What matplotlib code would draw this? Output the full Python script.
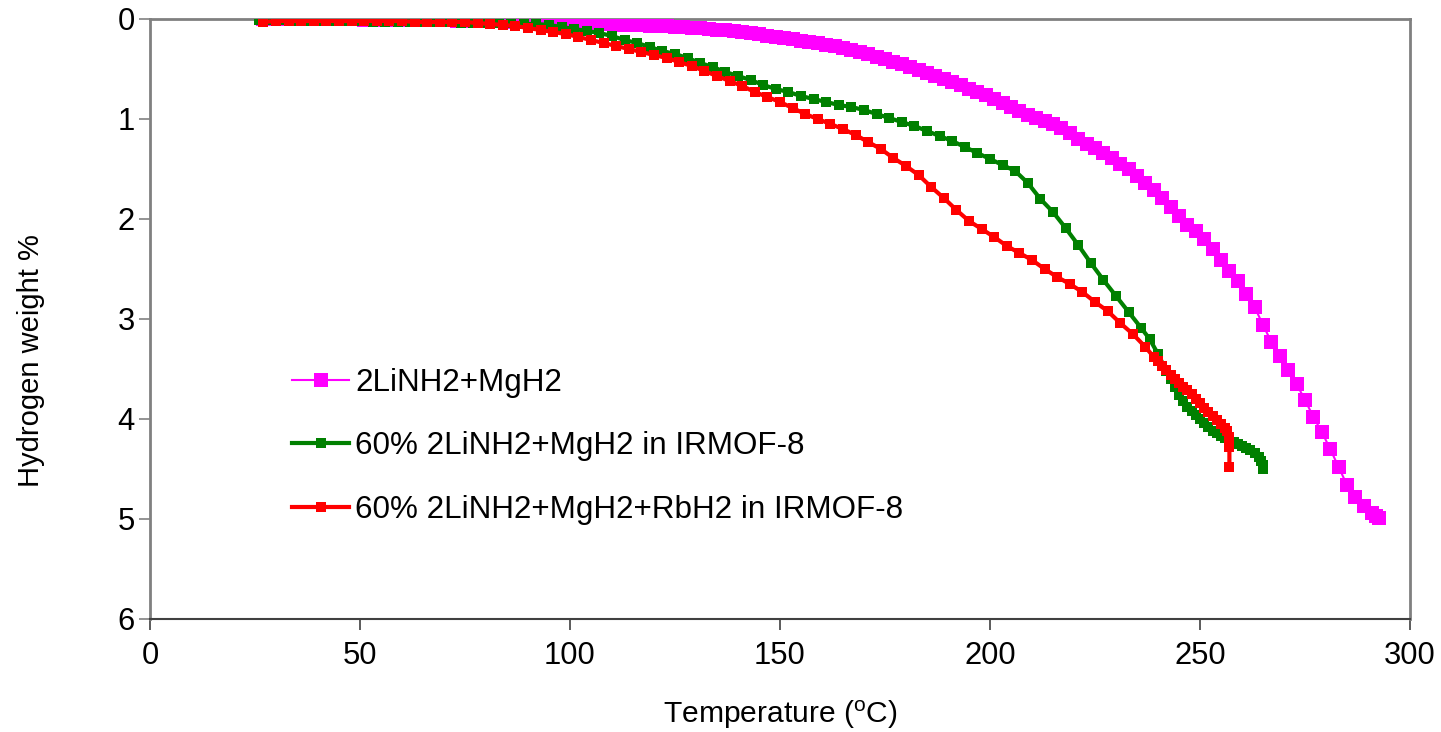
import matplotlib
matplotlib.use("Agg")
import matplotlib.pyplot as plt

plt.rcParams['font.family'] = ['Liberation Sans', 'DejaVu Sans']
plt.rcParams['mathtext.fontset'] = 'custom'
plt.rcParams['mathtext.rm'] = 'Liberation Sans'
plt.rcParams['mathtext.it'] = 'Liberation Sans'

# ---- data ----
t_pure = [27, 29, 31, 33, 35, 37, 39, 41, 43, 45, 47, 49, 51, 53, 55, 57, 59, 61, 63, 65,
          67, 69, 71, 73, 75, 77, 79, 81, 83, 85, 87, 89, 91, 93, 95, 97, 99, 101, 103, 105,
          107, 109, 111, 113, 115, 117, 119, 121, 123, 125, 127, 129, 131, 133, 135, 137, 139,
          141, 143, 145, 147, 149, 151, 153, 155, 157, 159, 161, 163, 165, 167, 169, 171, 173,
          175, 177, 179, 181, 183, 185, 187, 189, 191, 193, 195, 197, 199, 201, 203, 205, 207,
          209, 211, 213, 215, 217, 219, 221, 223, 225, 227, 229, 231, 233, 235, 237, 239, 241,
          243, 245, 247, 249, 251, 253, 255, 257, 259, 261, 263, 265, 267, 269, 271, 273, 275,
          277, 279, 281, 283, 285, 287, 289, 291, 292, 292.5]
w_pure = [0.00, 0.00, 0.00, 0.00, 0.00, 0.00, 0.00, 0.00, 0.00, 0.00, 0.00, 0.00, 0.01, 0.01,
          0.01, 0.01, 0.01, 0.01, 0.01, 0.01, 0.01, 0.01, 0.01, 0.02, 0.02, 0.02, 0.02, 0.02,
          0.02, 0.03, 0.03, 0.03, 0.03, 0.04, 0.04, 0.04, 0.04, 0.05, 0.05, 0.05, 0.05, 0.05,
          0.06, 0.06, 0.06, 0.06, 0.07, 0.07, 0.07, 0.08, 0.08, 0.09, 0.09, 0.10, 0.11, 0.11,
          0.12, 0.13, 0.14, 0.15, 0.17, 0.18, 0.19, 0.20, 0.22, 0.23, 0.24, 0.26, 0.27, 0.29,
          0.31, 0.33, 0.35, 0.38, 0.40, 0.43, 0.45, 0.48, 0.51, 0.54, 0.57, 0.60, 0.63, 0.66,
          0.70, 0.73, 0.76, 0.80, 0.84, 0.88, 0.92, 0.96, 0.99, 1.02, 1.05, 1.09, 1.14, 1.20,
          1.25, 1.29, 1.34, 1.39, 1.45, 1.50, 1.57, 1.64, 1.71, 1.79, 1.88, 1.97, 2.06, 2.12,
          2.20, 2.30, 2.41, 2.52, 2.62, 2.75, 2.88, 3.06, 3.23, 3.37, 3.51, 3.65, 3.81, 3.98,
          4.13, 4.30, 4.48, 4.66, 4.78, 4.87, 4.94, 4.97, 4.99]

t_mof = [26, 29, 32, 35, 38, 41, 44, 47, 50, 53, 56, 59, 62, 65, 68, 71, 74, 77, 80, 83, 86,
         89, 92, 95, 98, 101, 104, 107, 110, 113, 116, 119, 122, 125, 128, 131, 134, 137, 140,
         143, 146, 149, 152, 155, 158, 161, 164, 167, 170, 173, 176, 179, 182, 185, 188, 191,
         194, 197, 200, 203, 206, 209, 212, 215, 218, 221, 224, 227, 230, 233, 236, 238, 240,
         242, 243, 244, 245, 246, 247, 248, 249, 250, 251, 252, 253, 254, 255, 256, 257, 258,
         259, 260, 261, 262, 263, 264, 264.5, 265, 265]
w_mof = [0.01, 0.01, 0.01, 0.02, 0.02, 0.02, 0.02, 0.02, 0.02, 0.03, 0.03, 0.03, 0.03, 0.03,
         0.03, 0.03, 0.04, 0.04, 0.04, 0.04, 0.04, 0.05, 0.05, 0.06, 0.08, 0.10, 0.12, 0.14,
         0.17, 0.21, 0.24, 0.28, 0.32, 0.35, 0.39, 0.44, 0.48, 0.53, 0.57, 0.61, 0.66, 0.70,
         0.73, 0.77, 0.80, 0.83, 0.86, 0.88, 0.91, 0.95, 0.99, 1.03, 1.07, 1.12, 1.17, 1.22,
         1.28, 1.34, 1.40, 1.46, 1.52, 1.64, 1.80, 1.93, 2.09, 2.26, 2.44, 2.61, 2.77, 2.93,
         3.09, 3.20, 3.35, 3.52, 3.60, 3.68, 3.76, 3.82, 3.88, 3.92, 3.96, 4.00, 4.04, 4.08,
         4.12, 4.14, 4.17, 4.19, 4.21, 4.23, 4.25, 4.27, 4.29, 4.31, 4.34, 4.38, 4.42, 4.46,
         4.50]

t_rb = [27, 30, 33, 36, 39, 42, 45, 48, 51, 54, 57, 60, 63, 66, 69, 72, 75, 78, 81, 84, 87,
        90, 93, 96, 99, 102, 105, 108, 111, 114, 117, 120, 123, 126, 129, 132, 135, 138, 141,
        144, 147, 150, 153, 156, 159, 162, 165, 168, 171, 174, 177, 180, 183, 186, 189, 192,
        195, 198, 201, 204, 207, 210, 213, 216, 219, 222, 225, 228, 231, 234, 237, 239, 240,
        241, 242, 243, 244, 245, 246, 247, 248, 249, 250, 251, 252, 253, 254, 255, 256, 256.5,
        257, 257, 257]
w_rb = [0.03, 0.02, 0.02, 0.02, 0.02, 0.02, 0.02, 0.02, 0.02, 0.02, 0.02, 0.02, 0.03, 0.03,
        0.03, 0.03, 0.03, 0.04, 0.05, 0.06, 0.07, 0.09, 0.11, 0.13, 0.15, 0.18, 0.21, 0.24,
        0.27, 0.30, 0.33, 0.36, 0.39, 0.43, 0.47, 0.52, 0.57, 0.62, 0.67, 0.73, 0.78, 0.83,
        0.89, 0.95, 1.00, 1.05, 1.10, 1.16, 1.23, 1.30, 1.39, 1.47, 1.56, 1.68, 1.79, 1.91,
        2.02, 2.10, 2.18, 2.27, 2.34, 2.41, 2.50, 2.58, 2.65, 2.73, 2.83, 2.92, 3.04, 3.15,
        3.28, 3.38, 3.42, 3.47, 3.51, 3.56, 3.60, 3.64, 3.68, 3.71, 3.75, 3.80, 3.84, 3.89,
        3.93, 3.97, 4.01, 4.05, 4.09, 4.12, 4.18, 4.28, 4.48]

labels = ['2LiNH2+MgH2', '60% 2LiNH2+MgH2 in IRMOF-8', '60% 2LiNH2+MgH2+RbH2 in IRMOF-8']
x_ticks = [0, 50, 100, 150, 200, 250, 300]
y_ticks = [0, 1, 2, 3, 4, 5, 6]

# ---- figure ----
fig = plt.figure(figsize=(14.41, 7.32), dpi=100)
ax = fig.add_axes([150 / 1441, 1 - 619 / 732, 1260 / 1441, 600 / 732])

ax.plot(t_pure, w_pure, color='#FF00FF', lw=1.5, marker='s', ms=9.5,
        markeredgewidth=0, label=labels[0], zorder=3)
ax.plot(t_mof, w_mof, color='#008000', lw=3.0, marker='s', ms=7,
        markeredgewidth=0, label=labels[1], zorder=4)
ax.plot(t_rb, w_rb, color='#FF0000', lw=3.0, marker='s', ms=7,
        markeredgewidth=0, label=labels[2], zorder=5)

ax.set_xlim(0, 300)
ax.set_ylim(6, 0)
ax.set_xticks(x_ticks)
ax.set_yticks(y_ticks)
ax.tick_params(axis='both', labelsize=22.3, direction='out', length=8, width=1.2,
               color='#808080', pad=3)
ax.tick_params(axis='x', color='#404040', pad=8)

for side in ['left', 'top', 'right']:
    ax.spines[side].set_color('#808080')
    ax.spines[side].set_linewidth(2)
ax.spines['bottom'].set_color('#404040')
ax.spines['bottom'].set_linewidth(1.5)

ax.set_xlabel('Temperature ($^{\\mathrm{o}}$C)', fontsize=21.6, labelpad=20)
ax.set_ylabel('Hydrogen weight %', fontsize=21)
ax.yaxis.set_label_coords(-0.083, 0.43)

leg = ax.legend(loc='upper left', bbox_to_anchor=(0.103, 0.44), frameon=False,
                fontsize=22.6, handlelength=1.8, handletextpad=0.2, labelspacing=1.08,
                borderaxespad=0)

fig.savefig('out.png', dpi=100, facecolor='white')
